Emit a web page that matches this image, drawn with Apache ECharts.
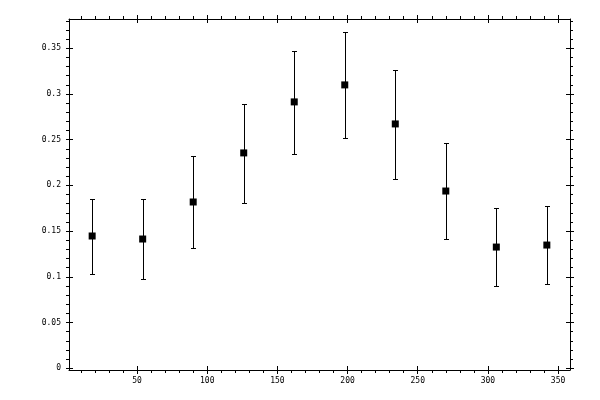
<!DOCTYPE html>
<html>
<head>
<meta charset="utf-8">
<script src="https://cdn.jsdelivr.net/npm/echarts@6/dist/echarts.min.js"></script>
<style>html,body{margin:0;padding:0;background:#fff}#c{width:600px;height:400px}</style>
</head>
<body>
<div id="c"></div>
<script>
const xValues = [18, 54, 90, 126, 162, 198, 234, 270, 306, 342];
const yValues = [0.1446, 0.1413, 0.1818, 0.2355, 0.2913, 0.3099, 0.2672, 0.1938, 0.1325, 0.1347];
const yLow = [0.1029, 0.0975, 0.1314, 0.1807, 0.2344, 0.2519, 0.2073, 0.1413, 0.0898, 0.0920];
const yHigh = [0.1846, 0.1846, 0.2322, 0.2891, 0.3472, 0.3680, 0.3264, 0.2460, 0.1752, 0.1774];
const xTicks = [50, 100, 150, 200, 250, 300, 350];
const xMinorTicks = [10,20,30,40,60,70,80,90,110,120,130,140,160,170,180,190,210,220,230,240,260,270,280,290,310,320,330,340];
const yTicks = [0, 0.05, 0.1, 0.15, 0.2, 0.25, 0.3, 0.35];
const yMinorTicks = [0.01,0.02,0.03,0.04,0.06,0.07,0.08,0.09,0.11,0.12,0.13,0.14,0.16,0.17,0.18,0.19,0.21,0.22,0.23,0.24,0.26,0.27,0.28,0.29,0.31,0.32,0.33,0.34,0.36,0.37,0.38];

const X_MIN = 1.5, X_MAX = 358.5, Y_MIN = -0.002, Y_MAX = 0.382;
const FONT = 'DejaVu Sans Mono';
const lineStyle = { color: '#000', width: 1 };

function mkAxis(kind, position, opts) {
  const a = {
    type: 'value', position: position,
    min: kind === 'x' ? X_MIN : Y_MIN,
    max: kind === 'x' ? X_MAX : Y_MAX,
    splitLine: { show: false },
    axisLine: { show: !!opts.line, onZero: false, lineStyle: lineStyle },
    axisTick: { show: true, inside: !!opts.inside, length: opts.len, customValues: opts.ticks, lineStyle: lineStyle },
    axisLabel: { show: false },
    minorTick: { show: false }
  };
  if (opts.labels) {
    a.axisLabel = { show: true, customValues: opts.ticks, color: '#000', fontFamily: FONT, fontSize: 8, margin: opts.margin };
  }
  return a;
}

const option = {
  animation: false,
  backgroundColor: '#fff',
  grid: { left: 69, top: 19, right: 30, bottom: 30, containLabel: false },
  xAxis: [
    mkAxis('x', 'bottom', { line: true, ticks: xTicks, len: 4, labels: true, margin: 7 }),
    mkAxis('x', 'bottom', { ticks: xTicks, len: 4, inside: true }),
    mkAxis('x', 'bottom', { ticks: xMinorTicks, len: 3 }),
    mkAxis('x', 'top', { line: true, ticks: xTicks, len: 4 }),
    mkAxis('x', 'top', { ticks: xTicks, len: 4, inside: true }),
    mkAxis('x', 'top', { ticks: xMinorTicks, len: 3 })
  ],
  yAxis: [
    mkAxis('y', 'left', { line: true, ticks: yTicks, len: 3, labels: true, margin: 8 }),
    mkAxis('y', 'left', { ticks: yTicks, len: 4, inside: true }),
    mkAxis('y', 'left', { ticks: yMinorTicks, len: 3 }),
    mkAxis('y', 'right', { line: true, ticks: yTicks, len: 4 }),
    mkAxis('y', 'right', { ticks: yTicks, len: 4, inside: true }),
    mkAxis('y', 'right', { ticks: yMinorTicks, len: 3 })
  ],
  series: [
    {
      type: 'custom',
      xAxisIndex: 0, yAxisIndex: 0,
      data: xValues.map((x, i) => [x, yLow[i], yHigh[i]]),
      renderItem: function (params, api) {
        const x = api.value(0);
        const lo = api.coord([x, api.value(1)]);
        const hi = api.coord([x, api.value(2)]);
        const cx = Math.round(lo[0]) + 0.5;
        const ly = Math.round(lo[1]) + 0.5;
        const hy = Math.round(hi[1]) + 0.5;
        const hw = 2.5;
        const st = { stroke: '#000', lineWidth: 1 };
        return {
          type: 'group',
          children: [
            { type: 'line', shape: { x1: cx, y1: ly, x2: cx, y2: hy }, style: st },
            { type: 'line', shape: { x1: cx - hw, y1: ly, x2: cx + hw, y2: ly }, style: st },
            { type: 'line', shape: { x1: cx - hw, y1: hy, x2: cx + hw, y2: hy }, style: st }
          ]
        };
      },
      z: 2
    },
    {
      type: 'scatter',
      xAxisIndex: 0, yAxisIndex: 0,
      data: xValues.map((x, i) => [x, yValues[i]]),
      symbol: 'rect',
      symbolSize: 7,
      itemStyle: { color: '#000', opacity: 1 },
      emphasis: { disabled: true },
      z: 3
    }
  ]
};

const chart = echarts.init(document.getElementById('c'), null, { renderer: 'canvas' });
chart.setOption(option);
</script>
</body>
</html>
